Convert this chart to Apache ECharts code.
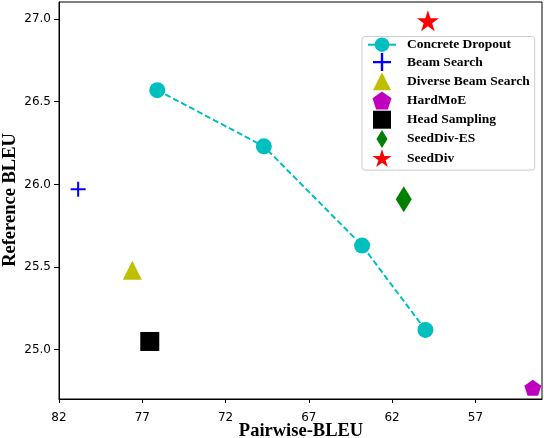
<!DOCTYPE html>
<html>
<head>
<meta charset="utf-8">
<script src="https://cdn.jsdelivr.net/npm/echarts@6/dist/echarts.min.js"></script>
<style>
  html, body { margin: 0; padding: 0; background: #fff; }
  #chart { width: 544px; height: 438px; }
</style>
</head>
<body>
<div id="chart"></div>
<script>
// Concrete Dropout curve
const dropoutPairwise = [76.1, 69.7, 63.8, 60.0];
const dropoutReference = [26.57, 26.23, 25.63, 25.12];

// single-point methods
const methods = ['Beam Search', 'Diverse Beam Search', 'HardMoE', 'Head Sampling', 'SeedDiv-ES', 'SeedDiv'];
const methodPairwise = [80.85, 77.6, 53.55, 76.55, 61.3, 59.85];
const methodReference = [25.97, 25.48, 24.77, 25.05, 25.91, 26.99];

const xTicks = [57, 62, 67, 72, 77, 82];
const yTicks = [25.0, 25.5, 26.0, 26.5, 27.0];
const xTitle = 'Pairwise-BLEU';
const yTitle = 'Reference BLEU';

const STAR = 'path://M50,0L61.2,34.5L97.6,34.5L68.2,55.9L79.4,90.5L50,69.1L20.6,90.5L31.8,55.9L2.4,34.5L38.8,34.5Z';
const PENTAGON = 'path://M50,0L97.6,34.5L79.4,90.5L20.6,90.5L2.4,34.5Z';
const PLUS = 'path://M6.5,0H8.5V15H6.5Z M0,6.5H15V8.5H0Z';
const THIN_DIAMOND = 'path://M8,0L16,13L8,26L0,13Z';
const TRIANGLE = 'path://M9.5,0L19,19L0,19Z';
const SQUARE = 'path://M0,0H19V19H0Z';

const markerStyle = {
    'Beam Search': { symbol: PLUS, size: [15, 15], color: '#0000ff' },
    'Diverse Beam Search': { symbol: TRIANGLE, size: [19, 19], color: '#bfbf00' },
    'HardMoE': { symbol: PENTAGON, size: [17, 16], color: '#bf00bf' },
    'Head Sampling': { symbol: SQUARE, size: [19, 19], color: '#000000' },
    'SeedDiv-ES': { symbol: THIN_DIAMOND, size: [16, 26], color: '#008000' },
    'SeedDiv': { symbol: STAR, size: [22, 21], color: '#ff0000' }
};

const myChart = echarts.init(document.getElementById('chart'));

const tickFont = { fontFamily: 'DejaVu Sans', fontSize: 12, color: '#000' };
const titleFont = 'bold 18.5px "Liberation Serif", "Times New Roman", serif';

const series = [{
    name: 'Concrete Dropout',
    type: 'line',
    data: dropoutPairwise.map((x, i) => [x, dropoutReference[i]]),
    symbol: 'circle',
    symbolSize: 16,
    itemStyle: { color: '#00bfbf' },
    lineStyle: { color: '#00bfbf', width: 2, type: [6, 3] },
    z: 2
}];
methods.forEach((name, i) => {
    const st = markerStyle[name];
    series.push({
        name: name,
        type: 'scatter',
        data: [[methodPairwise[i], methodReference[i]]],
        symbol: st.symbol,
        symbolSize: st.size,
        itemStyle: { color: st.color, opacity: 1 },
        z: 3
    });
});

const option = {
    animation: false,
    grid: {
        left: 59, right: 2, top: 2, bottom: 39,
        outerBoundsMode: 'none',
        show: true, borderColor: '#000', borderWidth: 1
    },
    // axis titles placed by hand (ECharts 6 pushes names past the labels)
    graphic: [
        {
            type: 'text', x: 301, y: 431,
            style: { text: xTitle, font: titleFont, fill: '#000', textAlign: 'center', textVerticalAlign: 'middle' }
        },
        {
            type: 'text', x: 10, y: 200, rotation: Math.PI / 2,
            style: { text: yTitle, font: titleFont, fill: '#000', textAlign: 'center', textVerticalAlign: 'middle' }
        }
    ],
    xAxis: {
        type: 'value',
        inverse: true,
        min: 53,
        max: 82,
        axisLine: { show: true, lineStyle: { color: '#000', width: 1 } },
        axisTick: { show: true, length: 4, lineStyle: { color: '#000' }, customValues: xTicks },
        axisLabel: { ...tickFont, margin: 13, customValues: xTicks },
        splitLine: { show: false }
    },
    yAxis: {
        type: 'value',
        min: 24.702,
        max: 27.103,
        axisLine: { show: true, lineStyle: { color: '#000', width: 1 } },
        axisTick: { show: true, length: 5, lineStyle: { color: '#000' }, customValues: yTicks },
        axisLabel: { ...tickFont, margin: 8, customValues: yTicks, formatter: v => v.toFixed(1) },
        splitLine: { show: false }
    },
    legend: {
        orient: 'vertical',
        left: 362,
        top: 36.5,
        itemWidth: 28,
        itemHeight: 18,
        itemGap: 1.2,
        padding: [1, 5, 3, 5],
        borderColor: '#cccccc',
        borderWidth: 1,
        borderRadius: 3,
        backgroundColor: 'rgba(255,255,255,0.8)',
        textStyle: {
            fontFamily: 'Liberation Serif', fontWeight: 'bold', fontSize: 13.5,
            color: '#000', padding: [0, 0, 0, 6]
        },
        data: [
            { name: 'Concrete Dropout', lineStyle: { type: 'solid', width: 2 } },
            ...methods.map(name => ({ name: name, icon: markerStyle[name].symbol }))
        ]
    },
    series: series
};
myChart.setOption(option);
</script>
</body>
</html>
